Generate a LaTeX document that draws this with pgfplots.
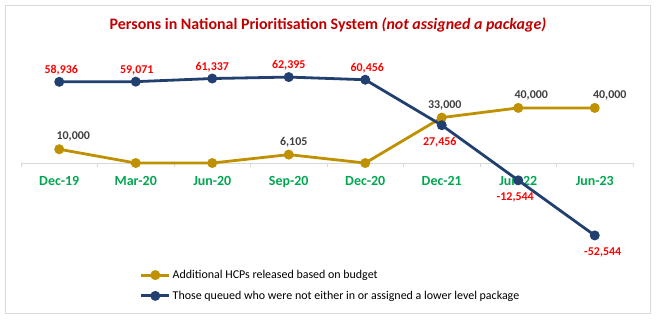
\documentclass[border=0pt]{standalone}
\usepackage{pgfplots}
\pgfplotsset{compat=1.18}
\usepackage{pgfplotstable}
\usepackage{fontspec}
\setmainfont{Carlito}
\definecolor{navy}{HTML}{22406F}
\definecolor{gold}{HTML}{BF9000}
\definecolor{tickgreen}{HTML}{00A650}
\definecolor{titlered}{HTML}{C00000}
\definecolor{labred}{HTML}{FF0000}
\definecolor{labgray}{HTML}{404040}
\definecolor{framegray}{HTML}{D9D9D9}

\pgfplotstableread{
x hcp lab dx
0 10000 10,000 14
1 0 {} 0
2 0 {} 0
3 6105 6,105 5
4 0 {} 0
5 33000 33,000 3
6 40000 40,000 13
7 40000 40,000 15
}\hcpdata

\pgfplotstableread{
x q above below dx
0 58936 58,936 {} 2
1 59071 59,071 {} 1
2 61337 61,337 {} 0
3 62395 62,395 {} 0
4 60456 60,456 {} 2
5 27456 {} 27,456 -2
6 -12544 {} -12,544 -3
7 -52544 {} -52,544 8
}\queuedata

\begin{document}
\begin{tikzpicture}
\useasboundingbox (-21bp,-76.3bp) rectangle (636bp,245.7bp);
\draw[framegray, line width=0.8bp] (-16bp,-67.3bp) rectangle (629bp,240.7bp);
\node[font=\bfseries\fontsize{16}{19}\selectfont, text=titlered] at (307bp,220.7bp)
  {Persons in National Prioritisation System \textit{(not assigned a package)}};
\begin{axis}[
  scale only axis,
  width=612bp, height=186bp,
  xmin=-0.5, xmax=7.5,
  ymin=-60000, ymax=75000,
  axis x line=middle,
  axis y line=none,
  x axis line style={-, framegray, line width=1bp},
  xtick={0,...,7},
  xticklabels={Dec-19,Mar-20,Jun-20,Sep-20,Dec-20,Dec-21,Jun-22,Jun-23},
  minor xtick={-0.5,0.5,...,7.5},
  major tick length=0pt,
  minor tick length=4bp,
  tick align=outside,
  minor tick style={framegray, line width=1bp},
  xticklabel style={font=\bfseries\fontsize{14}{16}\selectfont, text=tickgreen, yshift=-10bp},
  legend style={at={(0.194,-0.12)}, anchor=north west, draw=none, fill=none,
    font=\fontsize{12}{14}\selectfont, row sep=7bp, inner sep=0pt},
  legend cell align=left,
  legend image code/.code={\draw[mark repeat=2,mark phase=2] plot coordinates {(0bp,0bp) (14bp,0bp) (28bp,0bp)};},
  clip=false,
]
\addplot[gold, line width=2.8bp, mark=*, mark size=3.5bp, mark options={solid, fill=gold, draw=gold},
  nodes near coords, point meta=explicit symbolic,
  visualization depends on={\thisrow{dx} \as \dx},
  every node near coord/.append style={font=\bfseries\fontsize{12}{14}\selectfont, text=labgray, anchor=south, yshift=3bp, xshift=\dx bp}]
  table[x=x, y=hcp, meta=lab] {\hcpdata};
\addlegendentry{Additional HCPs released based on budget}
\addplot[navy, line width=2.8bp, mark=*, mark size=3.5bp, mark options={solid, fill=navy, draw=navy},
  nodes near coords, point meta=explicit symbolic,
  visualization depends on={\thisrow{dx} \as \dx},
  every node near coord/.append style={font=\bfseries\fontsize{12}{14}\selectfont, text=labred, anchor=south, yshift=2bp, xshift=\dx bp}]
  table[x=x, y=q, meta=above] {\queuedata};
\addlegendentry{Those queued who were not either in or assigned a lower level package}
\addplot[draw=none, no marks, forget plot,
  nodes near coords, point meta=explicit symbolic,
  visualization depends on={\thisrow{dx} \as \dx},
  every node near coord/.append style={font=\bfseries\fontsize{12}{14}\selectfont, text=labred, anchor=north, yshift=-9bp, xshift=\dx bp}]
  table[x=x, y=q, meta=below] {\queuedata};
\end{axis}
\end{tikzpicture}
\end{document}
